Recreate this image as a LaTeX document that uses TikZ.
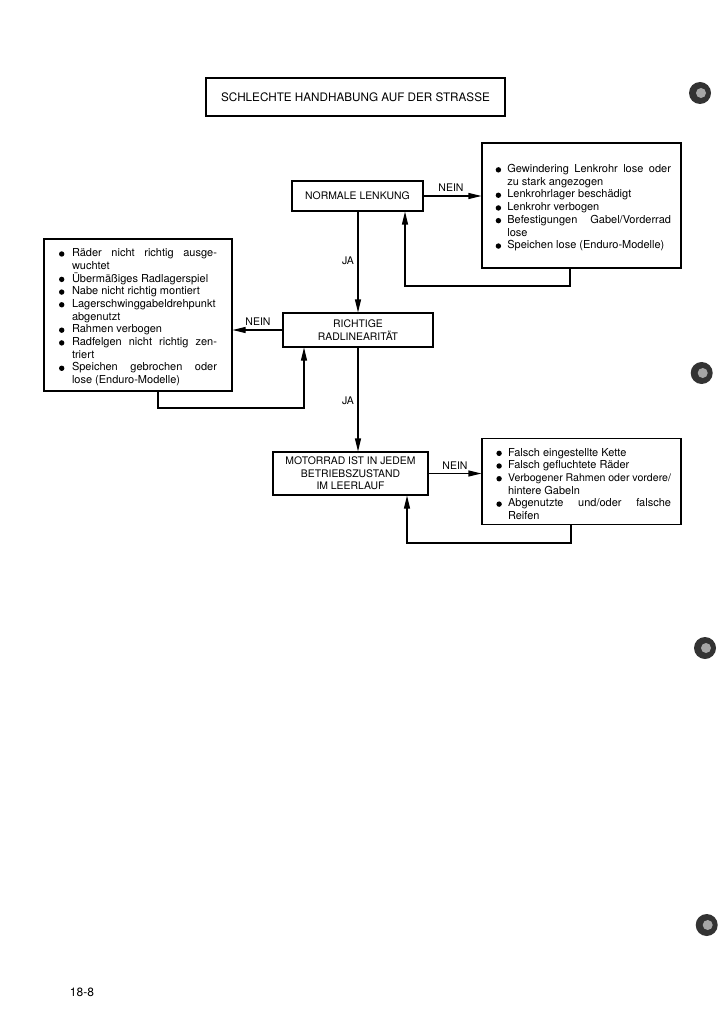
\documentclass[tikz,border=0pt]{standalone}
\usepackage{fontspec}
\setmainfont{TeX Gyre Heros}
\usetikzlibrary{arrows.meta}
\newlength\bhang
\newcommand\bitem[1]{\par\noindent\hangindent=\bhang\hangafter=1\makebox[\bhang][l]{\tikz\fill (2.7pt,2.7pt) circle (2.7pt);}#1}
\begin{document}
\begin{tikzpicture}[x=1pt,y=-1pt,
  box/.style={draw,line width=1.1pt,inner sep=0pt,align=center,font=\fontsize{10.4}{12.5}\selectfont},
  listbox/.style={draw,line width=1.1pt,inner ysep=0pt,inner xsep=10pt,align=justify,font=\fontsize{11}{12.7}\selectfont},
  lab/.style={font=\fontsize{10.5}{12}\selectfont,inner sep=0pt},
  conn/.style={line width=1.1pt},
  arr/.style={conn,-{Triangle[length=13pt,width=6pt]}},
  hole/.style={fill=black!80},
  holein/.style={fill=black!35}
]
\useasboundingbox (0,0) rectangle (724,1024);

% title
\node[box,minimum width=299pt,minimum height=38pt,font=\fontsize{11.7}{14}\selectfont] (T) at (355.5,97) {SCHLECHTE HANDHABUNG AUF DER STRASSE};

% decision boxes
\node[box,minimum width=131pt,minimum height=30pt] (NL) at (357.5,196) {NORMALE LENKUNG};
\node[box,minimum width=150pt,minimum height=34pt] (RL) at (358,330) {RICHTIGE\\RADLINEARITÄT};
\node[box,minimum width=155pt,minimum height=43pt] (MR) at (350.5,473.5) {MOTORRAD IST IN JEDEM\\BETRIEBSZUSTAND\\IM LEERLAUF};

% list boxes
\node[listbox,text width=179pt,minimum height=125pt] (B1) at (581.5,205.5) {\setlength\leftskip{3.7pt}\setlength\bhang{11.6pt}\hyphenpenalty=10000
\bitem{Gewindering Lenkrohr lose oder\linebreak zu stark angezogen}
\bitem{Lenkrohrlager beschädigt}
\bitem{Lenkrohr verbogen}
\bitem{Befestigungen Gabel/Vorderrad\linebreak lose}
\bitem{Speichen lose (Enduro-Modelle)}\par};

\node[listbox,inner xsep=15pt,text width=158pt,minimum height=152pt] (LB) at (138,315) {\setlength\bhang{13pt}\hyphenpenalty=10000
\bitem{Räder nicht richtig ausge-\linebreak wuchtet}
\bitem{Übermäßiges Radlagerspiel}
\bitem{Nabe nicht richtig montiert}
\bitem{Lagerschwinggabeldrehpunkt\newline abgenutzt}
\bitem{Rahmen verbogen}
\bitem{Radfelgen nicht richtig zen-\linebreak triert}
\bitem{Speichen gebrochen oder\linebreak lose (Enduro-Modelle)}\par};

\node[listbox,text width=179pt,minimum height=86pt] (B3) at (581.5,481.5) {\setlength\leftskip{4.4pt}\setlength\bhang{11.6pt}\hyphenpenalty=10000
\bitem{Falsch eingestellte Kette}
\bitem{Falsch gefluchtete Räder}
\bitem{{\fontsize{10.6}{12.7}\selectfont\spaceskip=0.14em plus 1em Verbogener Rahmen oder vordere/}\linebreak hintere Gabeln}
\bitem{Abgenutzte und/oder falsche\linebreak Reifen}\par};

% helper coordinates for return lines
\coordinate (r1) at (570,286);
\coordinate (l1) at (405,286);
\coordinate (r2) at (158,408);
\coordinate (l2) at (304,408);
\coordinate (r3) at (571,543);
\coordinate (l3) at (407,543);

% connectors
\draw[arr] (NL.east) -- (B1.west |- NL.east);
\draw[arr] (B1.south -| r1) -- (r1) -- (l1) -- (NL.south -| l1);
\draw[arr] (RL.north |- NL.south) -- (RL.north);
\draw[arr] (RL.west) -- (RL.west -| LB.east);
\draw[arr] (LB.south -| r2) -- (r2) -- (l2) -- (RL.south -| l2);
\draw[arr] (RL.south) -- (RL.south |- MR.north);
\draw[arr] (MR.east) -- (MR.east -| B3.west);
\draw[arr] (B3.south -| r3) -- (r3) -- (l3) -- (MR.south -| l3);

% labels
\node[lab] (n1) at (451,188) {NEIN};
\node[lab] (j1) at (348,261) {JA};
\node[lab] (n2) at (258,322) {NEIN};
\node[lab] (j2) at (348,401) {JA};
\node[lab] (n3) at (455,466) {NEIN};

% page number
\node[lab,font=\fontsize{12}{14}\selectfont] (pg) at (82,992) {18-8};

% punch holes
\foreach \p/\q in {700/93,701.7/373,705/648,706.7/925}{
  \fill[hole] (\p,\q) circle (11pt);
  \fill[holein] (\p+1,\q) circle (5pt);
}
\end{tikzpicture}
\end{document}
